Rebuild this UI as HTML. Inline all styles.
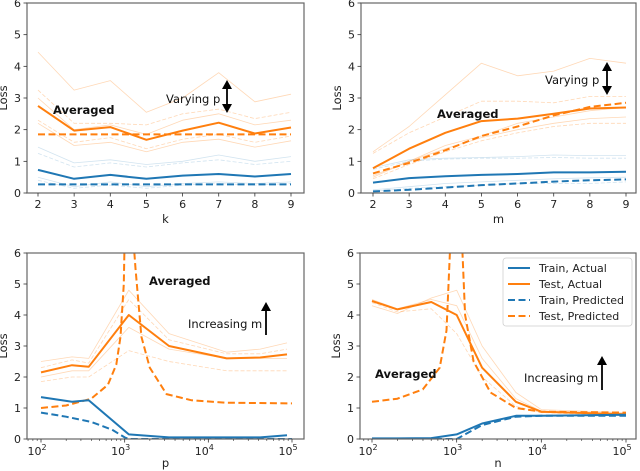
<!DOCTYPE html>
<html><head><meta charset="utf-8"><style>
html,body{margin:0;padding:0;background:#fff;}
svg{display:block;font-family:"DejaVu Sans","Liberation Sans",sans-serif;}
</style></head><body>
<svg id="fig" width="640" height="471" viewBox="0 0 640 471" xmlns="http://www.w3.org/2000/svg"></svg>
<script>
// ---------- Panel A (k) ----------
const kCats=[2,3,4,5,6,7,8,9];
const aTestAct=[2.75,1.97,2.08,1.68,1.97,2.22,1.88,2.07];
const aTestPred=[1.85,1.85,1.85,1.85,1.85,1.85,1.85,1.85];
const aTrainAct=[0.73,0.45,0.57,0.45,0.55,0.6,0.52,0.6];
const aTrainPred=[0.27,0.27,0.27,0.27,0.27,0.27,0.27,0.27];
const aFaintTest=[[4.45,3.25,3.55,2.55,3.0,3.8,2.88,3.12],[3.25,2.2,2.2,2.15,2.5,2.65,2.35,2.55],[3.0,2.0,2.15,1.85,2.3,2.5,2.15,2.3],[2.3,1.6,1.75,1.4,1.7,1.85,1.6,1.8],[2.2,1.5,1.6,1.3,1.6,1.7,1.45,1.65]];
const aFaintTrain=[[1.45,0.95,1.05,0.9,1.0,1.2,1.0,1.15],[1.25,0.82,0.95,0.82,0.95,1.05,0.9,1.0],[0.5,0.2,0.35,0.2,0.3,0.35,0.3,0.35],[0.4,0.15,0.25,0.15,0.25,0.3,0.25,0.3]];
// ---------- Panel B (m) ----------
const mCats=[2,3,4,5,6,7,8,9];
const bTestAct=[0.78,1.4,1.9,2.27,2.35,2.5,2.67,2.7];
const bTestPred=[0.62,0.95,1.35,1.8,2.1,2.45,2.72,2.85];
const bTrainAct=[0.33,0.47,0.53,0.57,0.6,0.65,0.65,0.67];
const bTrainPred=[0.05,0.1,0.17,0.25,0.3,0.36,0.4,0.43];
const bFaintTest=[[1.3,2.1,3.1,4.1,3.7,3.85,4.25,4.1],[1.25,1.9,2.4,2.9,2.9,2.85,3.05,3.05],[0.5,1.0,1.4,1.75,2.0,2.2,2.35,2.4],[0.45,0.9,1.3,1.65,1.9,2.1,2.2,2.2],[0.55,1.0,1.5,1.8,2.2,2.4,2.6,2.7]];
const bFaintTrain=[[0.8,1.05,1.1,1.12,1.15,1.2,1.18,1.18],[0.75,1.0,1.07,1.1,1.1,1.12,1.1,1.1],[0.1,0.2,0.3,0.35,0.4,0.45,0.48,0.5],[0.05,0.15,0.2,0.25,0.3,0.3,0.3,0.35]];
// ---------- Panel C (p, log10) ----------
const cLogP=[2.0,2.37,2.57,3.05,3.53,4.22,4.62,4.94];
const cTestAct=[2.15,2.38,2.33,4.0,3.0,2.6,2.63,2.73];
const cTrainAct=[1.35,1.2,1.25,0.15,0.05,0.05,0.05,0.12];
const cFaintTest=[[2.5,2.65,2.6,4.8,3.4,2.8,2.9,3.1],[2.3,2.55,2.45,4.5,3.2,2.75,2.75,2.9],[2.0,2.2,2.2,3.6,2.9,2.6,2.6,2.6],[1.85,2.0,2.0,2.85,2.5,2.2,2.2,2.2]];
const cPredLogP=[2.0,2.3,2.6,2.8,2.9,2.95,2.99,3.0,3.1,3.13,3.2,3.3,3.5,3.8,4.2,5.0];
const cTestPred=[1.0,1.08,1.3,1.75,2.4,3.3,5.0,6.6,6.6,5.5,3.3,2.3,1.45,1.25,1.17,1.15];
const cTrainPredLogP=[2.0,2.3,2.6,2.85,3.0,3.05,4.0,5.0];
const cTrainPred=[0.85,0.72,0.55,0.3,0.05,0.0,0.0,0.0];
// ---------- Panel D (n, log10) ----------
const dLogN=[2.0,2.3,2.7,3.0,3.3,3.7,4.0,5.0];
const dTestAct=[4.45,4.18,4.42,4.0,2.3,1.2,0.88,0.8];
const dTrainAct=[0.02,0.02,0.03,0.15,0.5,0.75,0.75,0.78];
const dFaintTest=[[4.3,4.05,4.55,4.8,3.0,1.5,0.95,0.85],[4.4,4.1,4.2,3.4,2.0,1.05,0.85,0.75],[4.5,4.2,4.5,4.3,2.6,1.3,0.9,0.82]];
const dPredLogN=[2.0,2.3,2.6,2.8,2.88,2.93,3.06,3.1,3.2,3.4,3.7,4.0,5.0];
const dTestPred=[1.2,1.3,1.6,2.3,3.5,6.6,6.6,4.0,2.5,1.5,1.0,0.88,0.85];
const dTrainPredLogN=[2.0,3.0,3.3,3.7,4.0,5.0];
const dTrainPred=[0.0,0.0,0.45,0.72,0.75,0.75];

const NS="http://www.w3.org/2000/svg";
const svg=document.getElementById('fig');
const BLUE="#1f77b4",ORANGE="#ff7f0e";
function mk(tag,attrs,parent){const e=document.createElementNS(NS,tag);for(const k in attrs)e.setAttribute(k,attrs[k]);(parent||svg).appendChild(e);return e;}

function panel(id,box,xmin,xmax,xPx0,xPx1,isLog,xlabel){
  const g=mk('g',{});
  
  
  const clipId='clip-'+id;
  const cp=mk('clipPath',{id:clipId},g);
  mk('rect',{x:box.l,y:box.t,width:box.r-box.l,height:box.b-box.t},cp);
  const xs=v=>xPx0+(v-xmin)/(xmax-xmin)*(xPx1-xPx0);
  const ys=v=>box.b-v/6*(box.b-box.t);
  const plot=mk('g',{'clip-path':'url(#'+clipId+')'},g);
  
  
  const fr=mk('rect',{x:box.l,y:box.t,width:box.r-box.l,height:box.b-box.t,fill:'none',stroke:'#666','stroke-width':1.2},g);
  
  
  for(let v=0;v<=6;v++){
    mk('line',{x1:box.l-3.5,x2:box.l,y1:ys(v),y2:ys(v),stroke:'#333','stroke-width':0.8},g);
    const t=mk('text',{x:box.l-6,y:ys(v)+4,'text-anchor':'end','font-size':11,fill:'#222'},g);
    t.textContent=v;
    
    
  }
  if(!isLog){
    for(let v=xmin;v<=xmax;v++){
      mk('line',{x1:xs(v),x2:xs(v),y1:box.b,y2:box.b+3.5,stroke:'#333','stroke-width':0.8},g);
      const t=mk('text',{x:xs(v),y:box.b+15,'text-anchor':'middle','font-size':11,fill:'#222'},g);
      t.textContent=v;
      
      
    }
  } else {
    for(let d=2;d<=5;d++){
      mk('line',{x1:xs(d),x2:xs(d),y1:box.b,y2:box.b+3.5,stroke:'#333','stroke-width':0.8},g);
      for(let m=2;m<=9;m++){const lv=d+Math.log10(m);if(lv<5&&xs(lv)<box.r){mk('line',{x1:xs(lv),x2:xs(lv),y1:box.b,y2:box.b+2,stroke:'#333','stroke-width':0.6},g);}}
      if(d==2){for(let m=7;m<=9;m++){const lv=1+Math.log10(m);if(xs(lv)>box.l)mk('line',{x1:xs(lv),x2:xs(lv),y1:box.b,y2:box.b+2,stroke:'#333','stroke-width':0.6},g);}}
      const t=mk('text',{x:xs(d)-4,y:box.b+16,'text-anchor':'middle','font-size':11,fill:'#222'},g);
      t.textContent='10';
      const s=mk('tspan',{dy:-5,'font-size':8},t);s.textContent=d;
      
      
    }
  }
  const xl=mk('text',{x:(box.l+box.r)/2,y:box.b+(isLog?28:30),'text-anchor':'middle','font-size':11.5,fill:'#222'},g);
  xl.textContent=xlabel;
  
  
  const yl=mk('text',{x:0,y:0,'text-anchor':'middle','font-size':11.5,fill:'#222',transform:`translate(${box.l-20},${(box.t+box.b)/2}) rotate(-90)`},g);
  yl.textContent='Loss';
  
  
  return {g,plot,xs,ys};
}
function series(P,xv,yv,color,width,dash,opacity,name){
  const d=xv.map((x,i)=>(i?'L':'M')+P.xs(x).toFixed(1)+','+P.ys(yv[i]).toFixed(1)).join('');
  const a={d:d,fill:'none',stroke:color,'stroke-width':width,'stroke-linejoin':'round',opacity:opacity};
  if(dash)a['stroke-dasharray']=dash;
  const p=mk('path',a,P.plot);
  
  
}
function label(P,x,y,txt,bold,name){
  const t=mk('text',{x:x,y:y,'font-size':11.5,'font-weight':bold?'bold':'normal',fill:'#111'},P.g);
  t.textContent=txt;
  
  
}
function arrow(P,x,y1,y2,both,name){
  const g=mk('g',{},P.g);
  
  
  mk('line',{x1:x,x2:x,y1:y1+4,y2:both?y2-4:y2,stroke:'#000','stroke-width':1.8},g);
  mk('polygon',{points:`${x-5},${y1+9} ${x},${y1} ${x+5},${y1+9}`,fill:'#000'},g);
  if(both)mk('polygon',{points:`${x-5},${y2-9} ${x},${y2} ${x+5},${y2-9}`,fill:'#000'},g);
}
function faint(P,x,faintT,faintTr,pre){
  faintT.forEach((s,i)=>series(P,x,s,ORANGE,0.8,i%2?'4,2':null,0.3,pre+'-faint-test-'+i));
  (faintTr||[]).forEach((s,i)=>series(P,x,s,BLUE,0.8,i%2?'4,2':null,0.2,pre+'-faint-train-'+i));
}

const A=panel('panel-k',{l:27,r:304,t:3,b:193},2,9,38,291,false,'k');
faint(A,kCats,aFaintTest,aFaintTrain,'panel-k');
series(A,kCats,aTestPred,ORANGE,2,'7,3.5',1,'panel-k-test-predicted');
series(A,kCats,aTrainPred,BLUE,2,'7,3.5',1,'panel-k-train-predicted');
series(A,kCats,aTestAct,ORANGE,2,null,1,'panel-k-test-actual');
series(A,kCats,aTrainAct,BLUE,2,null,1,'panel-k-train-actual');
label(A,53,114,'Averaged',true,'panel-k-averaged-label');
label(A,166,103,'Varying p',false,'panel-k-varying-label');
arrow(A,227,80,113,true,'panel-k-arrow');

const B=panel('panel-m',{l:361,r:636,t:3,b:193},2,9,373,626,false,'m');
faint(B,mCats,bFaintTest,bFaintTrain,'panel-m');
series(B,mCats,bTestPred,ORANGE,2,'7,3.5',1,'panel-m-test-predicted');
series(B,mCats,bTrainPred,BLUE,2,'7,3.5',1,'panel-m-train-predicted');
series(B,mCats,bTestAct,ORANGE,2,null,1,'panel-m-test-actual');
series(B,mCats,bTrainAct,BLUE,2,null,1,'panel-m-train-actual');
label(B,437,118,'Averaged',true,'panel-m-averaged-label');
label(B,545,84,'Varying p',false,'panel-m-varying-label');
arrow(B,607,62,95,true,'panel-m-arrow');

const C=panel('panel-p',{l:27,r:304,t:253,b:439},2,5,41,292,true,'p');
faint(C,cLogP,cFaintTest,null,'panel-p');
series(C,cPredLogP,cTestPred,ORANGE,2,'7,3.5',1,'panel-p-test-predicted');
series(C,cTrainPredLogP,cTrainPred,BLUE,2,'7,3.5',1,'panel-p-train-predicted');
series(C,cLogP,cTestAct,ORANGE,2,null,1,'panel-p-test-actual');
series(C,cLogP,cTrainAct,BLUE,2,null,1,'panel-p-train-actual');
label(C,149,285,'Averaged',true,'panel-p-averaged-label');
label(C,188,328,'Increasing m',false,'panel-p-increasing-label');
arrow(C,266,302,335,false,'panel-p-arrow');

const D=panel('panel-n',{l:360,r:636,t:253,b:439},2,5,372,626,true,'n');
faint(D,dLogN,dFaintTest,null,'panel-n');
series(D,dPredLogN,dTestPred,ORANGE,2,'7,3.5',1,'panel-n-test-predicted');
series(D,dTrainPredLogN,dTrainPred,BLUE,2,'7,3.5',1,'panel-n-train-predicted');
series(D,dLogN,dTestAct,ORANGE,2,null,1,'panel-n-test-actual');
series(D,dLogN,dTrainAct,BLUE,2,null,1,'panel-n-train-actual');
label(D,375,378,'Averaged',true,'panel-n-averaged-label');
label(D,524,382,'Increasing m',false,'panel-n-increasing-label');
arrow(D,602,356,390,false,'panel-n-arrow');

const lg=mk('g',{});


mk('rect',{x:503,y:258,width:129,height:68,rx:3,fill:'#fff',stroke:'#ccc','stroke-width':0.8,opacity:0.95},lg);
const legLabels=['Train, Actual','Test, Actual','Train, Predicted','Test, Predicted'];
const legColors=[BLUE,ORANGE,BLUE,ORANGE];
legLabels.forEach((s,i)=>{
  const y=268+i*16;
  const e=mk('g',{},lg);
  
  
  const a={x1:508,x2:530,y1:y,y2:y,stroke:legColors[i],'stroke-width':2};
  if(i>1)a['stroke-dasharray']='7,3.5';
  mk('line',a,e);
  const t=mk('text',{x:539,y:y+4,'font-size':11,fill:'#222'},e);
  t.textContent=s;
});
</script>
</body></html>
